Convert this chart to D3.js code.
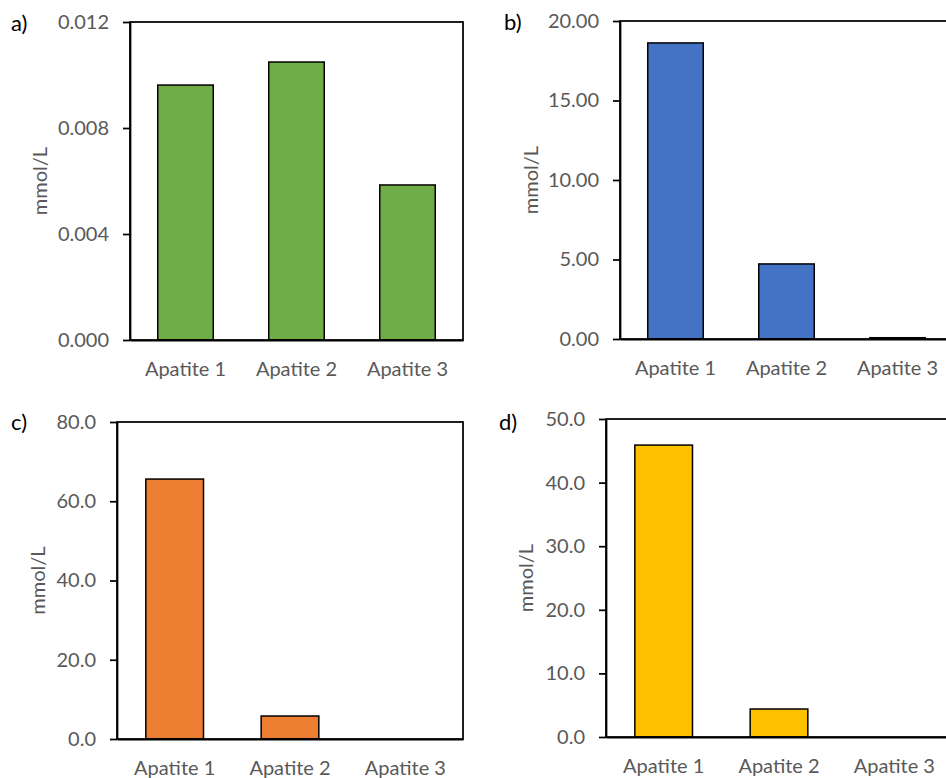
<!DOCTYPE html>
<html>
<head>
<meta charset="utf-8">
<script src="https://cdn.jsdelivr.net/npm/d3@7"></script>
<style>
  html, body { margin: 0; padding: 0; background: #fff; }
  svg { display: block; }
  text { font-family: Lato, "Open Sans", sans-serif; }
</style>
</head>
<body>
<svg id="chart" width="946" height="778"></svg>
<script>
// Dissolved concentrations per apatite sample (mmol/L), four panels
const categories = ["Apatite 1", "Apatite 2", "Apatite 3"];

const valuesA = [0.00962, 0.01049, 0.00585];
const valuesB = [18.62, 4.72, 0.08];
const valuesC = [65.6, 5.8, 0];
const valuesD = [45.9, 4.4, 0];

const ticksA = [0, 0.004, 0.008, 0.012];
const ticksB = [0, 5, 10, 15, 20];
const ticksC = [0, 20, 40, 60, 80];
const ticksD = [0, 10, 20, 30, 40, 50];

const panelLetters = ["a)", "b)", "c)", "d)"];
const axisTitle = "mmol/L";

const panels = [
  { letter: panelLetters[0], values: valuesA, ticks: ticksA, fmt: ".3f", color: "#70AD47",
    left: 130, top: 22, width: 333, height: 318, titleOffset: 83, letterX: 11, letterY: 31 },
  { letter: panelLetters[1], values: valuesB, ticks: ticksB, fmt: ".2f", color: "#4472C4",
    left: 620, top: 21, width: 333, height: 318, titleOffset: 82, letterX: 504, letterY: 30 },
  { letter: panelLetters[2], values: valuesC, ticks: ticksC, fmt: ".1f", color: "#ED7D31",
    left: 117, top: 422, width: 346, height: 317, titleOffset: 72, letterX: 11, letterY: 430 },
  { letter: panelLetters[3], values: valuesD, ticks: ticksD, fmt: ".1f", color: "#FFC000",
    left: 606, top: 419, width: 346, height: 318, titleOffset: 73, letterX: 499, letterY: 430 }
];

const svg = d3.select("#chart");
const labelGrey = "#595959";
const fontSize = 20;

panels.forEach(p => {
  const g = svg.append("g").attr("transform", `translate(${p.left},${p.top})`);

  const x = d3.scaleBand()
    .domain(categories)
    .range([0, p.width])
    .paddingInner(0.5)
    .paddingOuter(0.25);

  const y = d3.scaleLinear()
    .domain([p.ticks[0], p.ticks[p.ticks.length - 1]])
    .range([p.height, 0]);

  // bars
  const data = categories.map((c, i) => ({ c, v: p.values[i] })).filter(d => d.v > 0);
  g.selectAll("rect.bar")
    .data(data)
    .join("rect")
    .attr("class", "bar")
    .attr("x", d => x(d.c))
    .attr("y", d => y(d.v))
    .attr("width", x.bandwidth())
    .attr("height", d => y(0) - y(d.v))
    .attr("fill", p.color)
    .attr("stroke", "#000")
    .attr("stroke-width", 1.5);

  // plot frame
  g.append("rect")
    .attr("x", 0).attr("y", 0)
    .attr("width", p.width).attr("height", p.height)
    .attr("fill", "none")
    .attr("stroke", "#000")
    .attr("stroke-width", 1.75);

  // y axis
  const yAxis = g.append("g")
    .call(d3.axisLeft(y)
      .tickValues(p.ticks)
      .tickFormat(d3.format(p.fmt))
      .tickSizeInner(7)
      .tickSizeOuter(0)
      .tickPadding(14));
  yAxis.select(".domain").attr("stroke", "#000").attr("stroke-width", 1.75);
  yAxis.selectAll(".tick line").attr("stroke", "#000").attr("stroke-width", 1.75);
  yAxis.selectAll(".tick text")
    .attr("fill", labelGrey)
    .style("font-size", fontSize + "px")
    .style("font-family", "Lato, 'Open Sans', sans-serif");

  // x axis (category labels)
  const xAxis = g.append("g")
    .attr("transform", `translate(0,${p.height})`)
    .call(d3.axisBottom(x).tickSize(0).tickPadding(0));
  xAxis.select(".domain").attr("stroke", "#000").attr("stroke-width", 1.75);
  xAxis.selectAll(".tick text")
    .attr("y", 36)
    .attr("dy", null)
    .attr("fill", labelGrey)
    .style("font-size", fontSize + "px")
    .style("font-family", "Lato, 'Open Sans', sans-serif");

  // y axis title
  g.append("text")
    .attr("transform", `translate(${-p.titleOffset},${p.height / 2}) rotate(-90)`)
    .attr("text-anchor", "middle")
    .attr("fill", labelGrey)
    .style("font-size", fontSize + "px")
    .text(axisTitle);

  // panel letter
  svg.append("text")
    .attr("x", p.letterX)
    .attr("y", p.letterY)
    .attr("fill", "#000")
    .style("font-size", "22px")
    .text(p.letter);
});
</script>
</body>
</html>
